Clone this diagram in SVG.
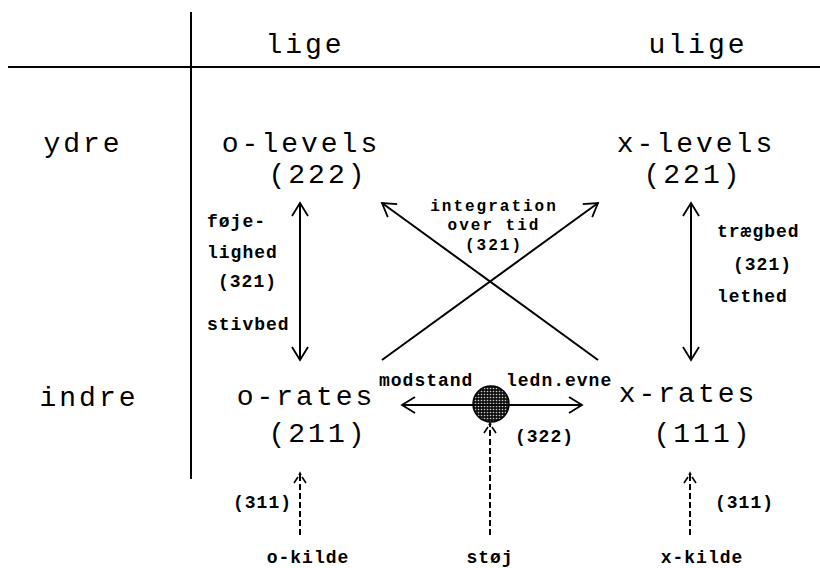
<svg xmlns="http://www.w3.org/2000/svg" width="820" height="568" viewBox="0 0 820 568">
<style>
.big{font-family:"Liberation Mono","DejaVu Sans Mono",monospace;font-size:28px;letter-spacing:3px;fill:#000;text-anchor:middle}
.sm{font-family:"Liberation Mono","DejaVu Sans Mono",monospace;font-size:18px;font-weight:bold;letter-spacing:1px;fill:#000}
.tight{font-size:16px;letter-spacing:2px;text-anchor:middle}
.ln{stroke:#000;stroke-width:2;fill:none}
.ds{stroke:#000;stroke-width:2;fill:none;stroke-dasharray:6 3}
</style>
<defs>
<marker id="arr" viewBox="-15 -10 17 20" refX="0" refY="0" markerWidth="17" markerHeight="20" markerUnits="userSpaceOnUse" orient="auto-start-reverse">
<path d="M-13,-8 L0,0 L-13,8" fill="none" stroke="#000" stroke-width="1.8"/>
</marker>
<marker id="arrd" viewBox="-15 -10 17 20" refX="0" refY="0" markerWidth="17" markerHeight="20" markerUnits="userSpaceOnUse" orient="auto">
<path d="M-10,-6 L-4,-2 M-2,-1 L0,0 L-2,1 M-4,2 L-10,6" fill="none" stroke="#000" stroke-width="1.6"/>
</marker>
<pattern id="dots" width="3" height="3" patternUnits="userSpaceOnUse">
<rect width="3" height="3" fill="#111"/>
<circle cx="1.5" cy="1.5" r="0.8" fill="#ccc"/>
</pattern>
</defs>

<g id="grid">
<line class="ln" x1="191" y1="12" x2="191" y2="479"/>
<line class="ln" x1="8" y1="67" x2="820" y2="67"/>
</g>

<g id="headers">
<text class="big" x="305" y="53">lige</text>
<text class="big" x="698" y="53">ulige</text>
<text class="big" x="83" y="152">ydre</text>
<text class="big" x="89" y="406">indre</text>
</g>

<g id="o-levels">
<text class="big" x="301" y="152">o-levels</text>
<text class="big" x="318" y="183">(222)</text>
</g>
<g id="x-levels">
<text class="big" x="696" y="152">x-levels</text>
<text class="big" x="693" y="183">(221)</text>
</g>
<g id="o-rates">
<text class="big" x="306" y="405">o-rates</text>
<text class="big" x="318" y="442">(211)</text>
</g>
<g id="x-rates">
<text class="big" x="688" y="402">x-rates</text>
<text class="big" x="703" y="442">(111)</text>
</g>

<g id="node-modstand">
<circle cx="491" cy="404" r="18" fill="url(#dots)" stroke="#000" stroke-width="1.5"/>
</g>

<g id="o-kilde"><text class="sm" x="308" y="563" text-anchor="middle">o-kilde</text></g>
<g id="stoej"><text class="sm" x="490" y="563" text-anchor="middle">støj</text></g>
<g id="x-kilde"><text class="sm" x="702" y="563" text-anchor="middle">x-kilde</text></g>

<g id="connectors">
<line class="ln" x1="300" y1="203" x2="300" y2="360" marker-start="url(#arr)" marker-end="url(#arr)"/>
<line class="ln" x1="691" y1="203" x2="691" y2="360" marker-start="url(#arr)" marker-end="url(#arr)"/>
<line class="ln" x1="598" y1="360" x2="382" y2="203" marker-end="url(#arr)"/>
<line class="ln" x1="382" y1="360" x2="598" y2="203" marker-end="url(#arr)"/>
<line class="ln" x1="402" y1="405" x2="582" y2="405" marker-start="url(#arr)" marker-end="url(#arr)"/>
<line class="ds" x1="300" y1="535" x2="300" y2="473" marker-end="url(#arrd)"/>
<line class="ds" x1="490" y1="535" x2="490" y2="423" marker-end="url(#arrd)"/>
<line class="ds" x1="690" y1="535" x2="690" y2="473" marker-end="url(#arrd)"/>
</g>

<g id="labels">
<text class="sm" x="207" y="227">føje-</text>
<text class="sm" x="207" y="258">lighed</text>
<text class="sm" x="218" y="287">(321)</text>
<text class="sm" x="207" y="330">stivbed</text>
<text class="sm" x="717" y="237">trægbed</text>
<text class="sm" x="733" y="270">(321)</text>
<text class="sm" x="717" y="302">lethed</text>
<text class="sm tight" x="494" y="211">integration</text>
<text class="sm tight" x="494" y="230">over tid</text>
<text class="sm tight" x="494" y="250">(321)</text>
<text class="sm" x="379" y="386">modstand</text>
<text class="sm" x="506" y="386">ledn.evne</text>
<text class="sm" x="515" y="442">(322)</text>
<text class="sm" x="233" y="508">(311)</text>
<text class="sm" x="715" y="508">(311)</text>
</g>
</svg>
